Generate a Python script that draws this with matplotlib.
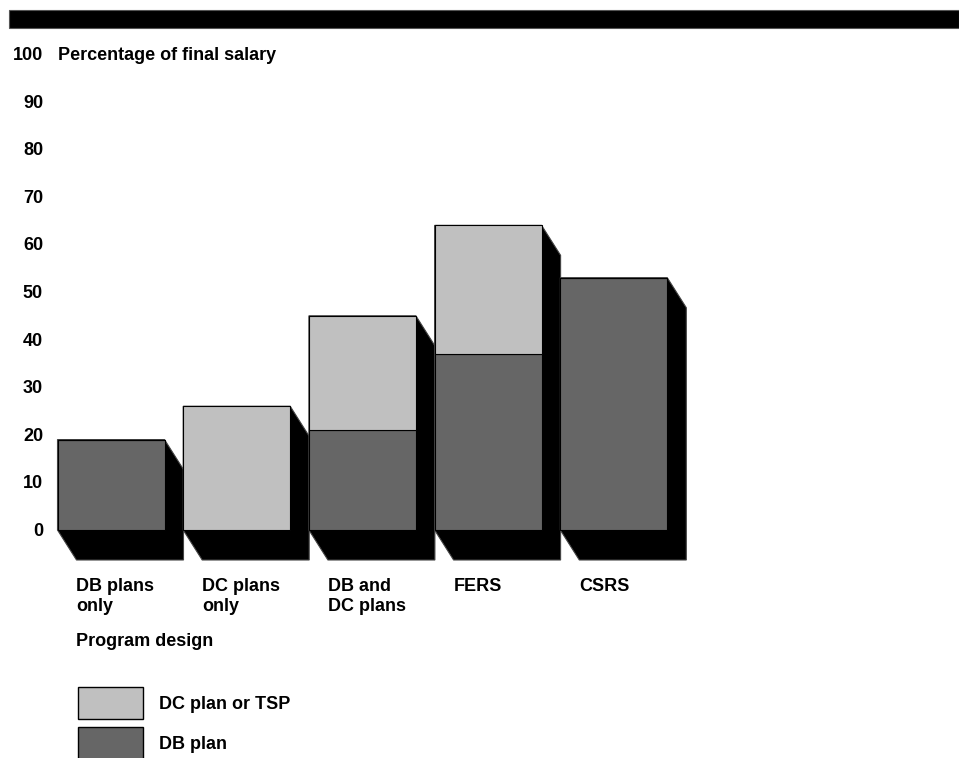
import matplotlib.pyplot as plt
from matplotlib.patches import Polygon, Rectangle

categories = ['DB plans\nonly', 'DC plans\nonly', 'DB and\nDC plans', 'FERS', 'CSRS']
db_plan = [19, 0, 21, 37, 53]
dc_plan = [0, 26, 24, 27, 0]
yticks = [0, 10, 20, 30, 40, 50, 60, 70, 80, 90, 100]

DARK = '#666666'
LIGHT = '#c0c0c0'
FS = 13

plt.rcParams['font.family'] = ['Liberation Sans', 'DejaVu Sans']
plt.rcParams['font.weight'] = 'bold'

fig = plt.figure(figsize=(9.59, 7.58), dpi=100)
ax = fig.add_axes([0, 0, 1, 1])
# axes fill the figure: 1 category = 125.7 px, 1 percent = 4.76 px, zero at y=530 px
px = 125.7
py = 4.76
ax.set_xlim(-111 / px, (959 - 111) / px)
ax.set_ylim((530 - 758) / py, 530 / py)
ax.axis('off')


def X(p):  # pixel x -> data
    return (p - 111) / px


def Y(p):  # pixel y -> data
    return (530 - p) / py


w = 107 / px
dx = 19 / px
dy = 30 / py

# 3d shadows first
for i in range(len(categories)):
    h = db_plan[i] + dc_plan[i]
    L, R = i - w / 2, i + w / 2
    ax.add_patch(Polygon([(L, 0), (L + dx, -dy), (R + dx, -dy), (R + dx, h - dy),
                          (R, h), (L, h)], closed=True, facecolor='black',
                         edgecolor='#444444', lw=0.8))

ax.bar(range(len(categories)), db_plan, width=w, color=DARK, edgecolor='black', lw=0.8)
ax.bar(range(len(categories)), dc_plan, width=w, bottom=db_plan, color=LIGHT,
       edgecolor='black', lw=0.8)

for t in yticks:
    ax.text(X(43), t - 6 / py, str(t), ha='right', va='baseline', fontsize=FS)
ax.text(-0.5 * w, 100 - 6 / py, 'Percentage of final salary', ha='left',
        va='baseline', fontsize=FS)

for i, c in enumerate(categories):
    ax.text(i - w / 2 + dx, Y(578), c, ha='left', va='top', fontsize=FS,
            linespacing=1.25)
ax.text(-w / 2 + dx, Y(646), 'Program design', ha='left', va='baseline', fontsize=FS)

# legend
legend_items = [('DC plan or TSP', LIGHT, 687, 719), ('DB plan', DARK, 727, 768)]
for lab, col, top, bot in legend_items:
    ax.add_patch(Rectangle((X(78), Y(bot)), X(143) - X(78), Y(top) - Y(bot),
                           facecolor=col, edgecolor='black', lw=1, clip_on=False))
    ax.text(X(159), Y(top + 22), lab, ha='left', va='baseline', fontsize=FS)

# black band at top
fig.add_artist(Rectangle((9 / 959, 1 - 28 / 758), 950 / 959, 18 / 758,
                         transform=fig.transFigure, facecolor='black',
                         edgecolor='#555555', lw=0.8))

fig.savefig('out.png', dpi=100)
